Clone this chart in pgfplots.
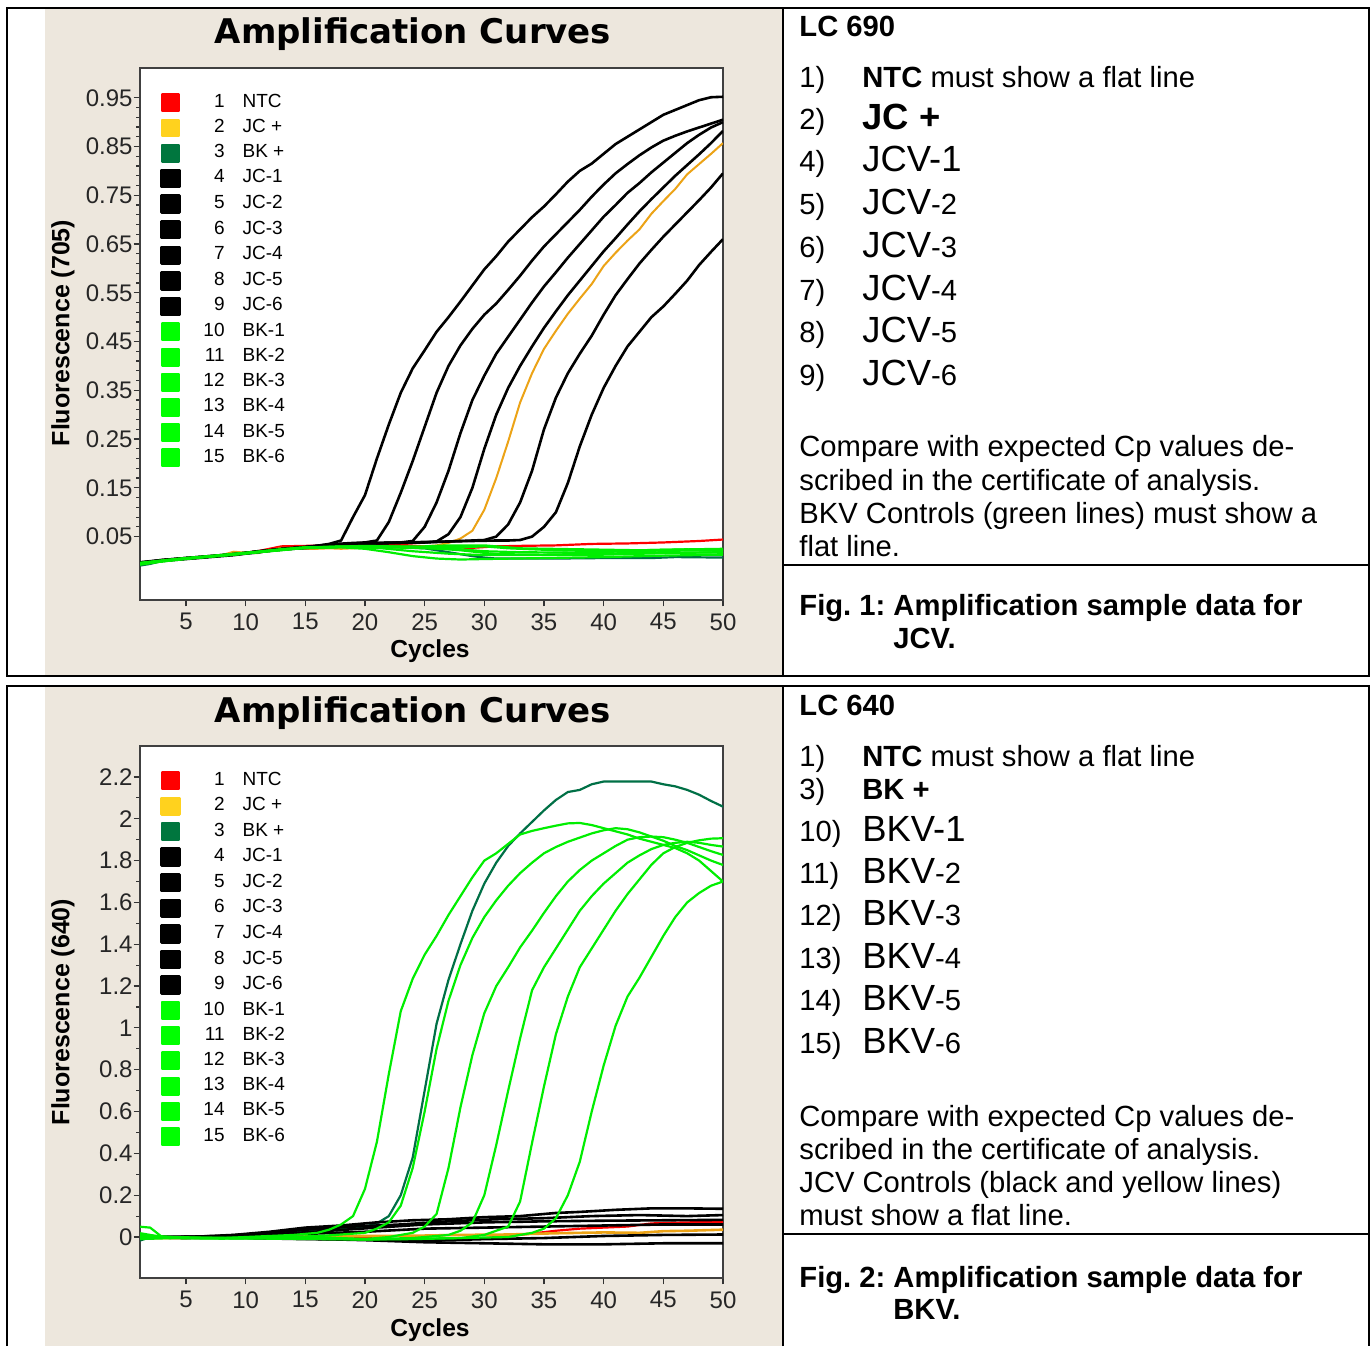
\documentclass[border=0pt]{standalone}
\usepackage{fontspec}
\setmainfont{Liberation Sans}
\newfontfamily\dejavu{DejaVu Sans}
\usepackage{pgfplots}
\pgfplotsset{compat=1.18}
\frenchspacing

\definecolor{beige}{RGB}{237,231,221}
\definecolor{ntcred}{RGB}{255,0,0}
\definecolor{jcorange}{RGB}{236,163,22}
\definecolor{jcgold}{RGB}{255,210,30}
\definecolor{bkdark}{RGB}{0,118,62}
\definecolor{bkdarkline}{RGB}{0,112,70}
\definecolor{bklime}{RGB}{0,255,0}
\definecolor{bkline}{RGB}{0,238,0}

\newcommand{\tsz}{\fontsize{14.6}{17}\selectfont}
\newcommand{\bsz}{\fontsize{18.2}{20}\selectfont}
\newcommand{\LE}[2]{\makebox[22pt][r]{#1}\hspace{9pt}#2}

\pgfplotsset{
  lsq/.style={legend image code/.code={\fill[#1] (0pt,-4.2pt) rectangle (8.8pt,4.2pt);}},
  qpcr/.style={
    scale only axis, width=291.5pt, height=266pt, anchor=south west,
    xmin=1.15, xmax=50, xtick={5,10,...,50},
    tick align=outside, xtick pos=bottom, ytick pos=left,
    major tick length=3.2pt, minor tick length=1.8pt,
    tick style={black!80, line width=0.6pt},
    axis line style={black!75, line width=0.9pt},
    axis background/.style={fill=white},
    /pgf/number format/assume math mode=true,
    tick label style={font=\fontsize{12}{14}\selectfont, black!85},
    yticklabel style={xshift=3pt},
    legend cell align=left,
    legend style={at={(0,1)}, anchor=north west, xshift=10pt, yshift=-12.5pt,
      draw=none, fill=none, inner sep=0pt, column sep=0pt, row sep=3.1pt,
      font=\fontsize{9.5}{11}\selectfont,
      nodes={inner sep=0pt, text height=6.9pt, text depth=2.4pt}},
    every axis plot/.append style={line width=1.3pt, line join=round},
  },
}

\begin{document}
\begin{tikzpicture}
\useasboundingbox (0,0) rectangle (685.5pt,673pt);
\fill[beige] (22.5pt,335.5pt) rectangle (391.5pt,668.5pt);
\fill[beige] (22.5pt,0pt) rectangle (391.5pt,329.5pt);

% ---------------- top chart (LC 690 / 705) ----------------
\begin{axis}[qpcr, at={(70pt,373pt)},
  ymin=-0.08, ymax=1.011,
  ytick={0.05,0.15,0.25,0.35,0.45,0.55,0.65,0.75,0.85,0.95},
  yticklabels={0.05,0.15,0.25,0.35,0.45,0.55,0.65,0.75,0.85,0.95},
  minor y tick num=4]
\addplot[color=ntcred, line width=1.1pt, lsq=ntcred] coordinates {(1,-0.004)(3,0.001)(5,0.006)(7,0.009)(9,0.014)(11,0.020)(13,0.030)(15,0.031)(17,0.032)(20,0.033)(23,0.033)(25,0.030)(27,0.028)(29,0.027)(31,0.030)(33,0.031)(36,0.032)(39,0.035)(42,0.036)(45,0.038)(48,0.041)(50,0.044)};
\addplot[color=jcorange, line width=1.0pt, lsq=jcgold] coordinates {(1,-0.003)(2,-0.002)(3,0.002)(4,0.004)(5,0.006)(6,0.006)(7,0.009)(8,0.012)(9,0.019)(10,0.017)(11,0.016)(12,0.022)(13,0.027)(14,0.026)(15,0.025)(16,0.025)(17,0.026)(18,0.025)(19,0.026)(20,0.027)(21,0.027)(22,0.028)(23,0.028)(24,0.029)(25,0.030)(26,0.032)(27,0.037)(28,0.046)(29,0.062)(30,0.105)(31,0.170)(32,0.245)(33,0.325)(34,0.385)(35,0.435)(36,0.472)(37,0.507)(38,0.538)(39,0.568)(40,0.605)(41,0.632)(42,0.657)(43,0.680)(44,0.712)(45,0.738)(46,0.763)(47,0.793)(48,0.814)(49,0.835)(50,0.857)};
\addplot[color=bkdarkline, line width=1.1pt, lsq=bkdark] coordinates {(1,-0.010)(2,-0.006)(3,0.000)(5,0.005)(7,0.009)(9,0.013)(11,0.017)(13,0.024)(15,0.026)(17,0.028)(19,0.029)(21,0.029)(23,0.028)(25,0.026)(26,0.022)(27,0.018)(28,0.014)(29,0.010)(30,0.007)(31,0.005)(33,0.005)(36,0.005)(40,0.006)(44,0.006)(46,0.008)(50,0.007)};
\addplot[color=black, lsq=black] coordinates {(1,-0.005)(3,0.001)(5,0.005)(7,0.009)(9,0.013)(11,0.020)(13,0.024)(15,0.028)(16,0.031)(17,0.035)(18,0.042)(19,0.090)(20,0.135)(21,0.210)(22,0.280)(23,0.345)(24,0.395)(25,0.432)(26,0.470)(27,0.500)(28,0.532)(29,0.565)(30,0.598)(31,0.625)(32,0.655)(33,0.680)(34,0.705)(35,0.727)(36,0.752)(37,0.778)(38,0.800)(39,0.815)(40,0.835)(41,0.855)(42,0.870)(43,0.885)(44,0.900)(45,0.915)(46,0.925)(47,0.935)(48,0.945)(49,0.951)(50,0.952)};
\addplot[color=black, lsq=black] coordinates {(1,-0.004)(3,0.002)(5,0.006)(7,0.010)(9,0.014)(11,0.019)(13,0.025)(15,0.029)(17,0.034)(19,0.037)(20,0.038)(21,0.042)(22,0.080)(23,0.140)(24,0.205)(25,0.275)(26,0.345)(27,0.400)(28,0.442)(29,0.476)(30,0.505)(31,0.528)(32,0.556)(33,0.585)(34,0.616)(35,0.645)(36,0.670)(37,0.695)(38,0.720)(39,0.747)(40,0.772)(41,0.795)(42,0.814)(43,0.832)(44,0.848)(45,0.862)(46,0.872)(47,0.881)(48,0.889)(49,0.897)(50,0.905)};
\addplot[color=black, lsq=black] coordinates {(1,-0.006)(3,0.000)(5,0.004)(7,0.008)(9,0.012)(11,0.018)(13,0.023)(15,0.027)(17,0.032)(19,0.035)(21,0.036)(23,0.038)(24,0.041)(25,0.070)(26,0.120)(27,0.185)(28,0.262)(29,0.330)(30,0.380)(31,0.425)(32,0.460)(33,0.495)(34,0.530)(35,0.563)(36,0.592)(37,0.622)(38,0.650)(39,0.678)(40,0.706)(41,0.730)(42,0.755)(43,0.775)(44,0.797)(45,0.817)(46,0.837)(47,0.857)(48,0.874)(49,0.889)(50,0.900)};
\addplot[color=black, lsq=black] coordinates {(1,-0.003)(3,0.002)(5,0.006)(7,0.009)(9,0.013)(11,0.019)(13,0.024)(15,0.028)(17,0.033)(19,0.036)(21,0.037)(23,0.038)(25,0.038)(26,0.040)(27,0.055)(28,0.090)(29,0.150)(30,0.230)(31,0.300)(32,0.355)(33,0.400)(34,0.440)(35,0.478)(36,0.512)(37,0.545)(38,0.575)(39,0.605)(40,0.635)(41,0.662)(42,0.690)(43,0.717)(44,0.742)(45,0.766)(46,0.790)(47,0.812)(48,0.834)(49,0.857)(50,0.882)};
\addplot[color=black, lsq=black] coordinates {(1,-0.005)(3,0.001)(5,0.005)(7,0.009)(9,0.014)(11,0.019)(13,0.024)(15,0.028)(17,0.033)(19,0.036)(21,0.037)(23,0.038)(25,0.039)(27,0.040)(29,0.042)(30,0.043)(31,0.050)(32,0.075)(33,0.120)(34,0.185)(35,0.270)(36,0.335)(37,0.385)(38,0.425)(39,0.462)(40,0.505)(41,0.545)(42,0.578)(43,0.610)(44,0.638)(45,0.665)(46,0.690)(47,0.715)(48,0.740)(49,0.766)(50,0.795)};
\addplot[color=black, lsq=black] coordinates {(1,-0.004)(3,0.001)(5,0.006)(7,0.010)(9,0.014)(11,0.019)(13,0.024)(15,0.028)(17,0.032)(19,0.035)(21,0.036)(23,0.037)(25,0.038)(27,0.040)(29,0.041)(31,0.042)(32,0.042)(33,0.043)(34,0.050)(35,0.070)(36,0.100)(37,0.160)(38,0.235)(39,0.300)(40,0.355)(41,0.400)(42,0.440)(43,0.470)(44,0.500)(45,0.522)(46,0.548)(47,0.575)(48,0.607)(49,0.634)(50,0.660)};
\addplot[color=bkline, line width=1.1pt, lsq=bklime] coordinates {(1,-0.008)(3,-0.001)(5,0.005)(7,0.009)(9,0.014)(11,0.018)(13,0.022)(15,0.027)(18,0.028)(20,0.025)(22,0.018)(24,0.010)(26,0.005)(28,0.003)(30,0.004)(35,0.006)(40,0.008)(45,0.011)(50,0.013)};
\addplot[color=bkline, line width=1.1pt, lsq=bklime] coordinates {(1,-0.004)(3,0.001)(5,0.006)(7,0.010)(9,0.015)(11,0.019)(13,0.024)(15,0.028)(18,0.029)(21,0.027)(24,0.020)(27,0.015)(30,0.012)(35,0.012)(40,0.013)(45,0.016)(50,0.018)};
\addplot[color=bkline, line width=1.1pt, lsq=bklime] coordinates {(1,-0.006)(3,0.000)(5,0.005)(7,0.009)(9,0.013)(11,0.018)(13,0.023)(15,0.027)(18,0.030)(22,0.028)(25,0.026)(28,0.024)(30,0.020)(33,0.018)(38,0.017)(42,0.020)(46,0.022)(50,0.022)};
\addplot[color=bkline, line width=1.1pt, lsq=bklime] coordinates {(1,-0.005)(3,0.001)(5,0.006)(7,0.010)(9,0.014)(11,0.019)(13,0.024)(15,0.028)(20,0.030)(25,0.028)(28,0.028)(30,0.030)(32,0.026)(36,0.022)(40,0.020)(45,0.023)(50,0.025)};
\addplot[color=bkline, line width=1.1pt, lsq=bklime] coordinates {(1,-0.007)(3,-0.001)(5,0.004)(7,0.009)(9,0.013)(11,0.018)(13,0.023)(15,0.027)(20,0.030)(25,0.030)(27,0.032)(30,0.032)(33,0.026)(38,0.024)(43,0.022)(47,0.024)(50,0.020)};
\addplot[color=bkline, line width=1.1pt, lsq=bklime] coordinates {(1,-0.006)(3,0.000)(5,0.005)(7,0.009)(9,0.013)(11,0.018)(13,0.023)(15,0.027)(20,0.031)(24,0.029)(28,0.022)(31,0.014)(35,0.013)(40,0.015)(45,0.018)(50,0.017)};
\legend{\LE{1}{NTC},\LE{2}{JC +},\LE{3}{BK +},\LE{4}{JC-1},\LE{5}{JC-2},\LE{6}{JC-3},\LE{7}{JC-4},\LE{8}{JC-5},\LE{9}{JC-6},\LE{10}{BK-1},\LE{11}{BK-2},\LE{12}{BK-3},\LE{13}{BK-4},\LE{14}{BK-5},\LE{15}{BK-6}}
\end{axis}

% ---------------- bottom chart (LC 640) ----------------
\begin{axis}[qpcr, at={(70pt,34pt)},
  ymin=-0.196, ymax=2.348,
  ytick={0,0.2,0.4,0.6,0.8,1,1.2,1.4,1.6,1.8,2,2.2},
  yticklabels={0,0.2,0.4,0.6,0.8,1,1.2,1.4,1.6,1.8,2,2.2},
  minor y tick num=1]
\addplot[color=ntcred, line width=1.1pt, lsq=ntcred] coordinates {(1,0.000)(3,0.000)(5,-0.003)(8,0.000)(12,0.000)(15,-0.005)(18,-0.008)(20,-0.005)(23,-0.012)(26,-0.015)(28,-0.010)(30,-0.005)(33,0.010)(36,0.030)(38,0.040)(40,0.045)(42,0.050)(44,0.065)(47,0.070)(50,0.072)};
\addplot[color=jcorange, line width=1.3pt, lsq=jcgold] coordinates {(1,-0.005)(4,-0.005)(8,-0.003)(12,0.000)(16,0.003)(20,0.005)(24,0.006)(28,0.010)(32,0.012)(36,0.018)(40,0.022)(43,0.020)(45,0.028)(47,0.030)(50,0.035)};
\addplot[color=bkdarkline, line width=1.1pt, lsq=bkdark] coordinates {(1,-0.020)(2,0.000)(3,-0.003)(5,-0.002)(8,0.003)(10,0.008)(12,0.015)(14,0.022)(16,0.030)(18,0.040)(20,0.050)(21,0.065)(22,0.100)(23,0.200)(24,0.380)(25,0.700)(26,1.020)(27,1.230)(28,1.400)(29,1.560)(30,1.690)(31,1.790)(32,1.870)(33,1.930)(34,1.985)(35,2.040)(36,2.090)(37,2.128)(38,2.138)(39,2.165)(40,2.178)(42,2.178)(44,2.178)(45,2.165)(46,2.155)(47,2.138)(48,2.115)(49,2.085)(50,2.058)};
\addplot[color=black, lsq=black] coordinates {(1,-0.010)(3,0.000)(6,0.002)(9,0.010)(12,0.025)(15,0.045)(18,0.055)(21,0.070)(24,0.080)(27,0.085)(30,0.095)(33,0.100)(36,0.115)(38,0.120)(41,0.130)(44,0.137)(47,0.137)(50,0.135)};
\addplot[color=black, lsq=black] coordinates {(1,0.000)(4,0.000)(8,0.005)(12,0.020)(15,0.035)(19,0.050)(23,0.060)(27,0.075)(31,0.085)(35,0.090)(39,0.100)(43,0.105)(47,0.100)(50,0.105)};
\addplot[color=black, lsq=black] coordinates {(1,0.000)(5,-0.005)(9,0.000)(13,0.015)(17,0.030)(21,0.045)(25,0.060)(30,0.070)(35,0.075)(40,0.078)(45,0.080)(50,0.082)};
\addplot[color=black, lsq=black] coordinates {(1,-0.005)(5,0.000)(10,0.005)(15,0.015)(20,0.025)(25,0.040)(30,0.045)(35,0.050)(40,0.055)(45,0.060)(50,0.060)};
\addplot[color=black, lsq=black] coordinates {(1,0.000)(5,-0.003)(10,-0.005)(15,-0.010)(20,-0.012)(25,-0.018)(30,-0.010)(35,-0.005)(40,0.005)(45,0.010)(50,0.012)};
\addplot[color=black, lsq=black] coordinates {(1,0.000)(5,0.000)(10,-0.003)(15,-0.008)(20,-0.015)(25,-0.025)(30,-0.030)(35,-0.035)(40,-0.035)(45,-0.030)(50,-0.030)};
\addplot[color=bkline, line width=1.1pt, lsq=bklime] coordinates {(1,0.050)(2,0.045)(3,0.000)(5,-0.005)(8,-0.005)(10,0.000)(12,0.005)(14,0.010)(16,0.020)(17,0.035)(18,0.060)(19,0.100)(20,0.230)(21,0.455)(22,0.780)(23,1.080)(24,1.235)(25,1.350)(26,1.440)(27,1.540)(28,1.630)(29,1.720)(30,1.800)(31,1.835)(32,1.880)(33,1.925)(34,1.942)(35,1.955)(36,1.967)(37,1.978)(38,1.980)(39,1.970)(40,1.955)(41,1.940)(42,1.925)(43,1.905)(44,1.890)(45,1.875)(46,1.860)(47,1.835)(48,1.800)(49,1.750)(50,1.700)};
\addplot[color=bkline, line width=1.1pt, lsq=bklime] coordinates {(1,0.020)(3,0.000)(6,-0.005)(10,-0.005)(14,0.000)(17,0.008)(20,0.020)(21,0.040)(22,0.070)(23,0.150)(24,0.330)(25,0.600)(26,0.900)(27,1.130)(28,1.300)(29,1.430)(30,1.530)(31,1.610)(32,1.680)(33,1.740)(34,1.790)(35,1.835)(36,1.865)(37,1.890)(38,1.910)(39,1.930)(40,1.945)(41,1.955)(42,1.950)(43,1.935)(44,1.915)(45,1.895)(46,1.870)(47,1.850)(48,1.825)(49,1.800)(50,1.779)};
\addplot[color=bkline, line width=1.1pt, lsq=bklime] coordinates {(1,-0.010)(4,-0.005)(8,-0.005)(12,-0.002)(16,0.000)(20,-0.010)(22,0.000)(24,0.020)(25,0.050)(26,0.110)(27,0.330)(28,0.620)(29,0.870)(30,1.070)(31,1.200)(32,1.290)(33,1.385)(34,1.465)(35,1.550)(36,1.630)(37,1.700)(38,1.755)(39,1.800)(40,1.835)(41,1.870)(42,1.900)(43,1.912)(44,1.915)(45,1.912)(46,1.900)(47,1.885)(48,1.865)(49,1.845)(50,1.827)};
\addplot[color=bkline, line width=1.1pt, lsq=bklime] coordinates {(1,0.000)(4,-0.005)(8,-0.008)(12,-0.005)(16,-0.005)(20,-0.010)(24,-0.005)(27,0.010)(28,0.030)(29,0.070)(30,0.200)(31,0.440)(32,0.700)(33,0.950)(34,1.180)(35,1.290)(36,1.380)(37,1.470)(38,1.560)(39,1.630)(40,1.690)(41,1.740)(42,1.790)(43,1.825)(44,1.855)(45,1.875)(46,1.885)(47,1.890)(48,1.885)(49,1.875)(50,1.867)};
\addplot[color=bkline, line width=1.1pt, lsq=bklime] coordinates {(1,0.000)(4,-0.003)(8,-0.005)(12,-0.005)(16,-0.008)(20,-0.012)(24,-0.010)(28,-0.005)(30,0.010)(31,0.030)(32,0.050)(33,0.170)(34,0.450)(35,0.720)(36,0.970)(37,1.150)(38,1.290)(39,1.380)(40,1.470)(41,1.560)(42,1.640)(43,1.710)(44,1.780)(45,1.835)(46,1.865)(47,1.885)(48,1.897)(49,1.905)(50,1.907)};
\addplot[color=bkline, line width=1.1pt, lsq=bklime] coordinates {(1,0.010)(4,0.000)(8,-0.005)(12,-0.008)(16,-0.010)(20,-0.012)(24,-0.008)(28,-0.005)(32,0.000)(34,0.020)(35,0.040)(36,0.090)(37,0.200)(38,0.360)(39,0.600)(40,0.820)(41,1.010)(42,1.150)(43,1.240)(44,1.340)(45,1.440)(46,1.530)(47,1.600)(48,1.645)(49,1.680)(50,1.700)};
\legend{\LE{1}{NTC},\LE{2}{JC +},\LE{3}{BK +},\LE{4}{JC-1},\LE{5}{JC-2},\LE{6}{JC-3},\LE{7}{JC-4},\LE{8}{JC-5},\LE{9}{JC-6},\LE{10}{BK-1},\LE{11}{BK-2},\LE{12}{BK-3},\LE{13}{BK-4},\LE{14}{BK-5},\LE{15}{BK-6}}
\end{axis}

% ---------------- chart titles and labels ----------------
\node[anchor=base, inner sep=0pt, font=\dejavu\bfseries\fontsize{17}{20}\selectfont] at (206.5pt,651pt) {Amplification Curves};
\node[anchor=base, inner sep=0pt, font=\dejavu\bfseries\fontsize{17}{20}\selectfont] at (206.5pt,312pt) {Amplification Curves};
\node[rotate=90, inner sep=0pt, font=\bfseries\fontsize{12.5}{14}\selectfont] at (31.5pt,506.5pt) {Fluorescence (705)};
\node[rotate=90, inner sep=0pt, font=\bfseries\fontsize{12.5}{14}\selectfont] at (31.5pt,167pt) {Fluorescence (640)};
\node[anchor=base, inner sep=0pt, font=\bfseries\fontsize{12.3}{14}\selectfont] at (215pt,344pt) {Cycles};
\node[anchor=base, inner sep=0pt, font=\bfseries\fontsize{12.3}{14}\selectfont] at (215pt,5pt) {Cycles};

% ---------------- table lines ----------------
\draw[line width=1pt] (3.5pt,335pt) rectangle (684.5pt,669pt);
\draw[line width=1pt] (391.5pt,335pt) -- (391.5pt,669pt);
\draw[line width=1pt] (391.5pt,390.5pt) -- (684.5pt,390.5pt);
\draw[line width=1pt] (3.5pt,0pt) -- (3.5pt,330pt) -- (684.5pt,330pt) -- (684.5pt,0pt);
\draw[line width=1pt] (391.5pt,0pt) -- (391.5pt,330pt);
\draw[line width=1pt] (391.5pt,56.25pt) -- (684.5pt,56.25pt);

% ---------------- right column text, row 1 ----------------
\begin{scope}[every node/.style={anchor=base west, inner sep=0pt}]
\node at (399.5pt,654.5pt) {\tsz\bfseries LC 690};
\node at (399.5pt,629pt) {\tsz 1)};
\node at (431pt,629pt) {\tsz\textbf{NTC} must show a flat line};
\node at (399.5pt,608pt) {\tsz 2)};
\node at (431pt,608pt) {\bsz\bfseries JC +};
\node at (399.5pt,587.25pt) {\tsz 4)};
\node at (431pt,587.25pt) {\bsz JCV-1};
\node at (399.5pt,565.75pt) {\tsz 5)};
\node at (431pt,565.75pt) {{\bsz JCV}{\tsz -2}};
\node at (399.5pt,544pt) {\tsz 6)};
\node at (431pt,544pt) {{\bsz JCV}{\tsz -3}};
\node at (399.5pt,522.75pt) {\tsz 7)};
\node at (431pt,522.75pt) {{\bsz JCV}{\tsz -4}};
\node at (399.5pt,501.5pt) {\tsz 8)};
\node at (431pt,501.5pt) {{\bsz JCV}{\tsz -5}};
\node at (399.5pt,480pt) {\tsz 9)};
\node at (431pt,480pt) {{\bsz JCV}{\tsz -6}};
\node at (399.5pt,444.5pt) {\tsz Compare with expected Cp values de-};
\node at (399.5pt,427.75pt) {\tsz scribed in the certificate of analysis.};
\node at (399.5pt,411pt) {\tsz BKV Controls (green lines) must show a};
\node at (399.5pt,394.5pt) {\tsz flat line.};
\node at (399.5pt,365pt) {\tsz\bfseries Fig. 1: Amplification sample data for};
\node at (446.5pt,348.75pt) {\tsz\bfseries JCV.};
% ---------------- right column text, row 2 ----------------
\node at (399.5pt,315.5pt) {\tsz\bfseries LC 640};
\node at (399.5pt,290pt) {\tsz 1)};
\node at (431pt,290pt) {\tsz\textbf{NTC} must show a flat line};
\node at (399.5pt,273.25pt) {\tsz 3)};
\node at (431pt,273.25pt) {\tsz\bfseries BK +};
\node at (399.5pt,252.5pt) {\tsz 10)};
\node at (431pt,252.5pt) {\bsz BKV-1};
\node at (399.5pt,231.5pt) {\tsz 11)};
\node at (431pt,231.5pt) {{\bsz BKV}{\tsz -2}};
\node at (399.5pt,210.25pt) {\tsz 12)};
\node at (431pt,210.25pt) {{\bsz BKV}{\tsz -3}};
\node at (399.5pt,189pt) {\tsz 13)};
\node at (431pt,189pt) {{\bsz BKV}{\tsz -4}};
\node at (399.5pt,167.75pt) {\tsz 14)};
\node at (431pt,167.75pt) {{\bsz BKV}{\tsz -5}};
\node at (399.5pt,146.5pt) {\tsz 15)};
\node at (431pt,146.5pt) {{\bsz BKV}{\tsz -6}};
\node at (399.5pt,110pt) {\tsz Compare with expected Cp values de-};
\node at (399.5pt,93.5pt) {\tsz scribed in the certificate of analysis.};
\node at (399.5pt,77pt) {\tsz JCV Controls (black and yellow lines)};
\node at (399.5pt,60.5pt) {\tsz must show a flat line.};
\node at (399.5pt,29.25pt) {\tsz\bfseries Fig. 2: Amplification sample data for};
\node at (446.5pt,13.25pt) {\tsz\bfseries BKV.};
\end{scope}
\end{tikzpicture}
\end{document}
